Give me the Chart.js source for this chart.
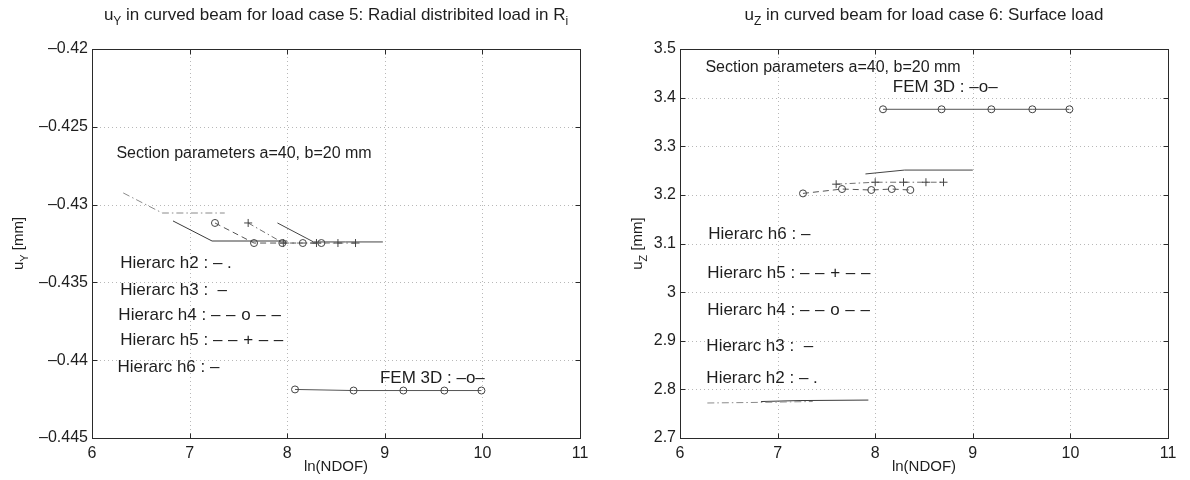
<!DOCTYPE html>
<html><head><meta charset="utf-8">
<script src="https://cdn.jsdelivr.net/npm/chart.js@4.4.1/dist/chart.umd.min.js"></script>
<style>
html,body{margin:0;padding:0;background:#fff;}
#wrap{position:relative;width:1190px;height:480px;overflow:hidden;}
canvas{position:absolute;top:0;}
</style></head><body>
<div id="wrap">
<canvas id="c1" width="595" height="480" style="left:0;width:595px;height:480px"></canvas>
<canvas id="c2" width="595" height="480" style="left:595px;width:595px;height:480px"></canvas>
</div>
<script>
// ---------- ticks ----------
const xTicks = [6, 7, 8, 9, 10, 11];
const xTickLabels = ['6', '7', '8', '9', '10', '11'];
const leftYTicks = [-0.445, -0.44, -0.435, -0.43, -0.425, -0.42];
const leftYTickLabels = ['\u20130.445', '\u20130.44', '\u20130.435', '\u20130.43', '\u20130.425', '\u20130.42'];
const rightYTicks = [2.7, 2.8, 2.9, 3.0, 3.1, 3.2, 3.3, 3.4, 3.5];
const rightYTickLabels = ['2.7', '2.8', '2.9', '3', '3.1', '3.2', '3.3', '3.4', '3.5'];

// ---------- left chart: u_Y, load case 5 ----------
const L_h2_x = [6.32, 6.72, 7.36];
const L_h2_y = [-0.42925, -0.43054, -0.43054];
const L_h3_x = [6.83, 7.23, 7.65, 8.00];
const L_h3_y = [-0.43105, -0.43234, -0.43234, -0.43234];
const L_h4_x = [7.26, 7.66, 7.95, 8.16, 8.35];
const L_h4_y = [-0.43118, -0.43247, -0.43247, -0.43247, -0.43247];
const L_h5_x = [7.60, 7.96, 8.30, 8.52, 8.70];
const L_h5_y = [-0.43118, -0.43247, -0.43247, -0.43247, -0.43247];
const L_h6_x = [7.90, 8.27, 8.60, 8.98];
const L_h6_y = [-0.43118, -0.43240, -0.43240, -0.43240];
const L_fem_x = [8.08, 8.68, 9.19, 9.61, 9.99];
const L_fem_y = [-0.44188, -0.44195, -0.44195, -0.44195, -0.44195];

// ---------- right chart: u_Z, load case 6 ----------
const R_h2_x = [6.28, 6.72, 7.36];
const R_h2_y = [2.772, 2.773, 2.775];
const R_h3_x = [6.83, 7.23, 7.93];
const R_h3_y = [2.775, 2.777, 2.778];
const R_h4_x = [7.26, 7.66, 7.96, 8.17, 8.36];
const R_h4_y = [3.203, 3.212, 3.210, 3.212, 3.210];
const R_h5_x = [7.60, 8.00, 8.29, 8.52, 8.70];
const R_h5_y = [3.222, 3.226, 3.226, 3.226, 3.226];
const R_h6_x = [7.90, 8.30, 9.00];
const R_h6_y = [3.243, 3.251, 3.251];
const R_fem_x = [8.08, 8.68, 9.19, 9.61, 9.99];
const R_fem_y = [3.376, 3.376, 3.376, 3.376, 3.376];

// ---------- text annotations (data coordinates) ----------
const SP = '\u2004';
const DASH4O = '\u2013' + SP + '\u2013' + SP + 'o' + SP + '\u2013' + SP + '\u2013';
const DASH4P = '\u2013' + SP + '\u2013' + SP + '+' + SP + '\u2013' + SP + '\u2013';
const L_notes = [
  {t: 'Section parameters a=40, b=20 mm', x: 6.25, y: -0.42675, big: false},
  {t: 'Hierarc h2 : \u2013 .', x: 6.29, y: -0.43375, big: true},
  {t: 'Hierarc h3 :  \u2013', x: 6.29, y: -0.43549, big: true},
  {t: 'Hierarc h4 : ' + DASH4O, x: 6.27, y: -0.43710, big: true},
  {t: 'Hierarc h5 : ' + DASH4P, x: 6.29, y: -0.43870, big: true},
  {t: 'Hierarc h6 : \u2013', x: 6.26, y: -0.44044, big: true},
  {t: 'FEM 3D : \u2013o\u2013', x: 8.95, y: -0.44115, big: true}
];
const R_notes = [
  {t: 'Section parameters a=40, b=20 mm', x: 6.26, y: 3.461, big: false},
  {t: 'FEM 3D : \u2013o\u2013', x: 8.18, y: 3.422, big: true},
  {t: 'Hierarc h6 : \u2013', x: 6.29, y: 3.119, big: true},
  {t: 'Hierarc h5 : ' + DASH4P, x: 6.28, y: 3.039, big: true},
  {t: 'Hierarc h4 : ' + DASH4O, x: 6.28, y: 2.963, big: true},
  {t: 'Hierarc h3 :  \u2013', x: 6.27, y: 2.889, big: true},
  {t: 'Hierarc h2 : \u2013 .', x: 6.27, y: 2.823, big: true}
];

const FONT = '"Liberation Sans", Arial, sans-serif';
const TXT = '#1e1e1e';

function pts(xs, ys) { return xs.map((x, i) => ({x: x, y: ys[i]})); }

function ds(label, xs, ys, style) {
  return Object.assign({
    label: label, data: pts(xs, ys), showLine: true, fill: false,
    borderWidth: 1, pointRadius: 0, pointHoverRadius: 0,
    pointBackgroundColor: 'rgba(0,0,0,0)', pointBorderWidth: 1
  }, style);
}

const S = {
  h2: {borderColor: '#8a8a8a', borderDash: [7, 3, 1.5, 3]},
  h3: {borderColor: '#3a3a3a'},
  h4: {borderColor: '#555', borderDash: [6, 4], pointRadius: 3.5, pointStyle: 'circle', pointBorderColor: '#444'},
  h5: {borderColor: '#707070', borderDash: [6, 3, 1.5, 3], pointRadius: 4, pointStyle: 'cross', pointBorderColor: '#444'},
  h6: {borderColor: '#444'},
  fem: {borderColor: '#555', pointRadius: 3.5, pointStyle: 'circle', pointBorderColor: '#444'}
};

function drawRich(ctx, parts, x, y, size, align) {
  let w = 0;
  parts.forEach(p => {
    ctx.font = (p.sub ? Math.round(size * 0.72) : size) + 'px ' + FONT;
    p.w = ctx.measureText(p.t).width; w += p.w;
  });
  let cx = align === 'center' ? x - w / 2 : x;
  ctx.textAlign = 'left'; ctx.textBaseline = 'alphabetic';
  parts.forEach(p => {
    ctx.font = (p.sub ? Math.round(size * 0.72) : size) + 'px ' + FONT;
    ctx.fillText(p.t, cx, y + (p.sub ? size * 0.3 : 0));
    cx += p.w;
  });
}

function makeFramePlugin(yTicks, notes, titleParts, yLabelParts) {
  return {
    id: 'frame',
    beforeDatasetsDraw(chart) {
      const ctx = chart.ctx, a = chart.chartArea;
      const xs = chart.scales.x, ys = chart.scales.y;
      ctx.save();
      ctx.strokeStyle = '#b8b8b8'; ctx.lineWidth = 1; ctx.setLineDash([1, 3]);
      xTicks.forEach(v => {
        const p = Math.round(xs.getPixelForValue(v)) + 0.5;
        if (p > a.left + 2 && p < a.right - 2) { ctx.beginPath(); ctx.moveTo(p, a.top); ctx.lineTo(p, a.bottom); ctx.stroke(); }
      });
      yTicks.forEach(v => {
        const p = Math.round(ys.getPixelForValue(v)) + 0.5;
        if (p > a.top + 2 && p < a.bottom - 2) { ctx.beginPath(); ctx.moveTo(a.left, p); ctx.lineTo(a.right, p); ctx.stroke(); }
      });
      ctx.setLineDash([]);
      ctx.strokeStyle = '#2a2a2a'; ctx.lineWidth = 1;
      const L = Math.round(a.left) + 0.5, R = Math.round(a.right) + 0.5, T = Math.round(a.top) + 0.5, B = Math.round(a.bottom) + 0.5;
      ctx.strokeRect(L, T, R - L, B - T);
      const tl = 5;
      ctx.beginPath();
      xTicks.forEach(v => {
        const p = Math.round(xs.getPixelForValue(v)) + 0.5;
        ctx.moveTo(p, B); ctx.lineTo(p, B - tl);
        ctx.moveTo(p, T); ctx.lineTo(p, T + tl);
      });
      yTicks.forEach(v => {
        const p = Math.round(ys.getPixelForValue(v)) + 0.5;
        ctx.moveTo(L, p); ctx.lineTo(L + tl, p);
        ctx.moveTo(R, p); ctx.lineTo(R - tl, p);
      });
      ctx.stroke();
      ctx.restore();
    },
    afterDraw(chart) {
      const ctx = chart.ctx, a = chart.chartArea;
      const xs = chart.scales.x, ys = chart.scales.y;
      ctx.save();
      ctx.fillStyle = TXT;
      ctx.textAlign = 'left'; ctx.textBaseline = 'middle';
      notes.forEach(n => {
        ctx.font = (n.big ? 17 : 16) + 'px ' + FONT;
        ctx.fillText(n.t, xs.getPixelForValue(n.x), ys.getPixelForValue(n.y));
      });
      drawRich(ctx, titleParts, (a.left + a.right) / 2, 20, 17, 'center');
      ctx.font = '15px ' + FONT; ctx.textAlign = 'center'; ctx.textBaseline = 'middle';
      ctx.fillText('ln(NDOF)', (a.left + a.right) / 2, 467);
      ctx.save();
      ctx.translate(chart.options.yLabelX, (a.top + a.bottom) / 2);
      ctx.rotate(-Math.PI / 2);
      drawRich(ctx, yLabelParts, 0, 5, 15, 'center');
      ctx.restore();
      ctx.restore();
    }
  };
}

function makeChart(id, datasets, yMin, yMax, yTicks, yTickLabels, yWidth, padRight, notes, titleParts, yLabelParts, yLabelX) {
  return new Chart(document.getElementById(id), {
    type: 'scatter',
    data: {datasets: datasets},
    options: {
      responsive: false, animation: false, devicePixelRatio: 1,
      yLabelX: yLabelX,
      layout: {padding: {top: 49, right: padRight, left: 0, bottom: 0}},
      plugins: {legend: {display: false}, tooltip: {enabled: false}, title: {display: false}},
      scales: {
        x: {
          type: 'linear', min: 6, max: 11,
          afterBuildTicks: s => { s.ticks = xTicks.map(v => ({value: v})); },
          afterFit: s => { s.height = 42; },
          grid: {display: false, drawTicks: false}, border: {display: false},
          ticks: {padding: 6, color: TXT, font: {family: FONT, size: 16},
                  callback: (v) => xTickLabels[xTicks.indexOf(v)] ?? ''}
        },
        y: {
          type: 'linear', min: yMin, max: yMax,
          afterBuildTicks: s => { s.ticks = yTicks.map(v => ({value: v})); },
          afterFit: s => { s.width = yWidth; },
          grid: {display: false, drawTicks: false}, border: {display: false},
          ticks: {padding: 4, color: TXT, font: {family: FONT, size: 16},
                  callback: (v) => { const i = yTicks.findIndex(t => Math.abs(t - v) < 1e-9); return i >= 0 ? yTickLabels[i] : ''; }}
        }
      }
    },
    plugins: [makeFramePlugin(yTicks, notes, titleParts, yLabelParts)]
  });
}

makeChart('c1', [
  ds('Hierarc h2', L_h2_x, L_h2_y, S.h2),
  ds('Hierarc h3', L_h3_x, L_h3_y, S.h3),
  ds('Hierarc h4', L_h4_x, L_h4_y, S.h4),
  ds('Hierarc h5', L_h5_x, L_h5_y, S.h5),
  ds('Hierarc h6', L_h6_x, L_h6_y, S.h6),
  ds('FEM 3D', L_fem_x, L_fem_y, S.fem)
], -0.445, -0.42, leftYTicks, leftYTickLabels, 92, 15, L_notes,
  [{t: 'u'}, {t: 'Y', sub: true}, {t: ' in curved beam for load case 5: Radial distribited load in R'}, {t: 'i', sub: true}],
  [{t: 'u'}, {t: 'Y', sub: true}, {t: ' [mm]'}], 18);

makeChart('c2', [
  ds('Hierarc h2', R_h2_x, R_h2_y, S.h2),
  ds('Hierarc h3', R_h3_x, R_h3_y, S.h3),
  ds('Hierarc h4', R_h4_x, R_h4_y, S.h4),
  ds('Hierarc h5', R_h5_x, R_h5_y, S.h5),
  ds('Hierarc h6', R_h6_x, R_h6_y, S.h6),
  ds('FEM 3D', R_fem_x, R_fem_y, S.fem)
], 2.7, 3.5, rightYTicks, rightYTickLabels, 85, 22, R_notes,
  [{t: 'u'}, {t: 'Z', sub: true}, {t: ' in curved beam for load case 6: Surface load'}],
  [{t: 'u'}, {t: 'Z', sub: true}, {t: ' [mm]'}], 42);
</script>
</body></html>
